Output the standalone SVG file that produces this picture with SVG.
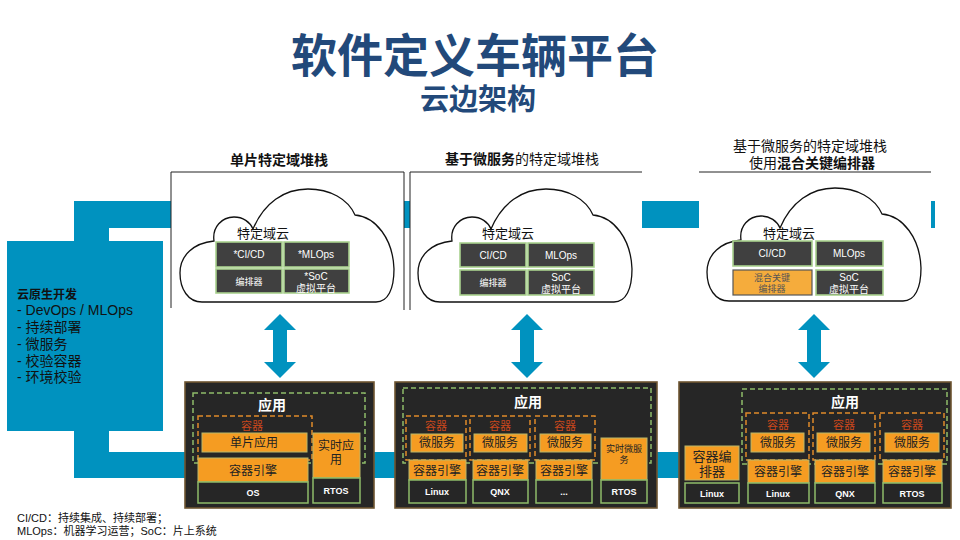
<svg xmlns="http://www.w3.org/2000/svg" width="960" height="540" viewBox="0 0 960 540">
<defs>
<style>
text{font-family:"Liberation Sans","Noto Sans CJK SC",sans-serif;}
.teal{fill:#0092bf;}
.panel{fill:#fff;}
.pline{stroke:#222;stroke-width:1;fill:none;}
.cloud{fill:#fff;stroke:#111;stroke-width:1.3;}
.cbox{fill:#404040;stroke:#a9d18e;stroke-width:1.6;}
.cobox{fill:#f5ac3c;stroke:#555;stroke-width:1.2;}
.ct{fill:#fff;font-size:10px;text-anchor:middle;}
.sm{font-size:9px;}
.clabel{fill:#111;font-size:13px;}
.head{fill:#111;font-size:14px;text-anchor:middle;}
.b{font-weight:bold;}
.dev{fill:#262626;stroke:#6e5531;stroke-width:1.6;}
.gdash{fill:none;stroke:#8fbc6a;stroke-width:1.5;stroke-dasharray:5 3;}
.odash{fill:none;stroke:#e08a2a;stroke-width:1.5;stroke-dasharray:5 3;}
.obox{fill:#f59c22;stroke:#b9b76a;stroke-width:1;}
.dbox{fill:#262626;stroke:#8fbc6a;stroke-width:1.5;}
.app{fill:#fff;font-size:14px;font-weight:bold;text-anchor:middle;}
.cont{fill:#c8471c;font-size:11px;text-anchor:middle;}
.ot{fill:#222;font-size:12px;text-anchor:middle;}
.ot9{fill:#222;font-size:9px;text-anchor:middle;}
.ot13{fill:#222;font-size:13px;text-anchor:middle;}
.os{fill:#fff;font-size:9px;font-weight:bold;text-anchor:middle;}
.arrow{fill:#0092bf;}
</style>
<path id="cloudshape" d="M 22,113 C 8,113 0,100 0,84 C 0,66 14,54 34,52 C 32,38 42,28 54,28 C 63,28 70,33 73,40 C 84,14 104,0 128,0 C 150,0 168,10 175,26 C 196,28 213,50 214,80 C 214,100 208,113 196,113 Z"/>
<path id="dblarrow" d="M 0,0 L 16,16 L 7,16 L 7,48 L 16,48 L 0,64 L -16,48 L -7,48 L -7,16 L -16,16 Z"/>
</defs>

<rect width="960" height="540" fill="#fff"/>

<!-- title -->
<g id="title">
<text x="475" y="72" font-size="46" font-weight="bold" fill="#22497a" text-anchor="middle">软件定义车辆平台</text>
<text x="478" y="110" font-size="29" font-weight="bold" fill="#22497a" text-anchor="middle">云边架构</text>
</g>

<!-- connectors: teal pipe loop and arrows -->
<g id="connectors">
<rect class="teal" x="74" y="201" width="861" height="27"/>
<rect class="teal" x="74" y="201" width="35" height="277"/>
<rect class="teal" x="74" y="452" width="820" height="26"/>
<use href="#dblarrow" class="arrow" transform="translate(280,314)"/>
<use href="#dblarrow" class="arrow" transform="translate(527,314)"/>
<use href="#dblarrow" class="arrow" transform="translate(814,314)"/>
</g>

<!-- left cloud-native box -->
<g id="cloud-native">
<rect class="teal" x="7" y="241" width="156" height="190"/>
<text x="17" y="299" font-size="12" font-weight="bold" fill="#111">云原生开发</text>
<text x="17" y="315" font-size="14" fill="#111">- DevOps / MLOps</text>
<text x="17" y="332" font-size="14" fill="#111">- 持续部署</text>
<text x="17" y="349" font-size="14" fill="#111">- 微服务</text>
<text x="17" y="366" font-size="14" fill="#111">- 校验容器</text>
<text x="17" y="382" font-size="14" fill="#111">- 环境校验</text>
</g>

<!-- panel 1 -->
<g id="panel1">
<text class="head b" x="279" y="165">单片特定域堆栈</text>
<rect class="panel" x="171" y="172" width="233" height="138"/>
<path class="pline" d="M171,308 V172 H404 V310"/>
<use href="#cloudshape" class="cloud" transform="translate(180,189)"/>
<text class="clabel" x="237" y="238">特定域云</text>
<rect class="cbox" x="216" y="242" width="66" height="25"/>
<text class="ct" x="249" y="258">*CI/CD</text>
<rect class="cbox" x="284" y="242" width="65" height="25"/>
<text class="ct" x="316" y="258">*MLOps</text>
<rect class="cbox" x="216" y="269" width="66" height="24"/>
<text class="ct sm" x="249" y="285">编排器</text>
<rect class="cbox" x="284" y="269" width="65" height="24"/>
<text class="ct" x="316" y="280">*SoC</text>
<text class="ct" x="316" y="292">虚拟平台</text>
</g>

<!-- panel 2 -->
<g id="panel2">
<text class="head" x="522" y="164"><tspan class="b">基于微服务</tspan>的特定域堆栈</text>
<rect class="panel" x="410" y="172" width="232" height="138"/>
<path class="pline" d="M410,310 V172 H642"/>
<use href="#cloudshape" class="cloud" transform="translate(418,189)"/>
<text class="clabel" x="482" y="238">特定域云</text>
<rect class="cbox" x="460" y="243" width="66" height="24"/>
<text class="ct" x="493" y="259">CI/CD</text>
<rect class="cbox" x="528" y="243" width="66" height="24"/>
<text class="ct" x="561" y="259">MLOps</text>
<rect class="cbox" x="460" y="270" width="66" height="25"/>
<text class="ct sm" x="493" y="286">编排器</text>
<rect class="cbox" x="528" y="270" width="66" height="25"/>
<text class="ct" x="561" y="281">SoC</text>
<text class="ct" x="561" y="293">虚拟平台</text>
</g>

<!-- panel 3 -->
<g id="panel3">
<text class="head" x="810" y="151">基于微服务的特定域堆栈</text>
<text class="head" x="812" y="168">使用<tspan class="b">混合关键编排器</tspan></text>
<rect class="panel" x="699" y="172" width="232" height="138"/>
<path class="pline" d="M699,172 H931"/>
<use href="#cloudshape" class="cloud" transform="translate(707,188)"/>
<text class="clabel" x="763" y="238">特定域云</text>
<rect class="cbox" x="733" y="241" width="79" height="25"/>
<text class="ct" x="772" y="257">CI/CD</text>
<rect class="cbox" x="816" y="241" width="67" height="25"/>
<text class="ct" x="849" y="257">MLOps</text>
<rect class="cobox" x="733" y="270" width="79" height="25"/>
<text class="ct sm" x="772" y="281" style="fill:#555">混合关键</text>
<text class="ct sm" x="772" y="292" style="fill:#555">编排器</text>
<rect class="cbox" x="816" y="270" width="67" height="25"/>
<text class="ct" x="849" y="281">SoC</text>
<text class="ct" x="849" y="293">虚拟平台</text>
</g>

<!-- device 1 -->
<g id="device1">
<rect class="dev" x="185" y="382" width="189" height="126"/>
<rect class="gdash" x="193" y="393" width="172" height="70"/>
<text class="app" x="272" y="410">应用</text>
<rect class="odash" x="198" y="416" width="114" height="44"/>
<text class="cont" x="252" y="430">容器</text>
<rect class="obox" x="202" y="433" width="105" height="19"/>
<text class="ot" x="254" y="447">单片应用</text>
<rect class="obox" x="198" y="458" width="110" height="24"/>
<text class="ot" x="253" y="475">容器引擎</text>
<rect class="dbox" x="198" y="482" width="110" height="21"/>
<text class="os" x="253" y="496">OS</text>
<rect class="obox" x="313" y="433" width="47" height="45"/>
<text class="ot" x="336" y="450">实时应</text>
<text class="ot" x="336" y="464">用</text>
<rect class="dbox" x="313" y="478" width="47" height="25"/>
<text class="os" x="336" y="494">RTOS</text>
</g>

<!-- device 2 -->
<g id="device2">
<rect class="dev" x="395" y="382" width="262" height="126"/>
<rect class="gdash" x="403" y="388" width="248" height="75"/>
<text class="app" x="528" y="407">应用</text>
<rect class="odash" x="406" y="416" width="60" height="44"/>
<rect class="odash" x="470" y="416" width="60" height="44"/>
<rect class="odash" x="535" y="416" width="60" height="44"/>
<text class="cont" x="436" y="430">容器</text>
<text class="cont" x="500" y="430">容器</text>
<text class="cont" x="565" y="430">容器</text>
<rect class="obox" x="411" y="434" width="52" height="18"/>
<rect class="obox" x="474" y="434" width="53" height="18"/>
<rect class="obox" x="540" y="434" width="51" height="18"/>
<text class="ot" x="437" y="447">微服务</text>
<text class="ot" x="500" y="447">微服务</text>
<text class="ot" x="565" y="447">微服务</text>
<rect class="obox" x="409" y="460" width="57" height="20"/>
<rect class="obox" x="473" y="460" width="55" height="20"/>
<rect class="obox" x="536" y="460" width="56" height="20"/>
<text class="ot" x="437" y="475">容器引擎</text>
<text class="ot" x="500" y="475">容器引擎</text>
<text class="ot" x="564" y="475">容器引擎</text>
<rect class="dbox" x="409" y="480" width="57" height="23"/>
<rect class="dbox" x="473" y="480" width="55" height="23"/>
<rect class="dbox" x="536" y="480" width="56" height="23"/>
<text class="os" x="437" y="495">Linux</text>
<text class="os" x="500" y="495">QNX</text>
<text class="os" x="564" y="495">...</text>
<rect class="obox" x="601" y="438" width="46" height="42"/>
<text class="ot9" x="624" y="452">实时微服</text>
<text class="ot9" x="624" y="463">务</text>
<rect class="dbox" x="601" y="480" width="46" height="23"/>
<text class="os" x="624" y="495">RTOS</text>
</g>

<!-- device 3 -->
<g id="device3">
<rect class="dev" x="679" y="382" width="272" height="126"/>
<rect class="gdash" x="742" y="389" width="205" height="75"/>
<text class="app" x="845" y="407">应用</text>
<rect class="odash" x="746" y="413" width="63" height="47"/>
<rect class="odash" x="813" y="413" width="62" height="47"/>
<rect class="odash" x="880" y="413" width="64" height="47"/>
<text class="cont" x="778" y="429">容器</text>
<text class="cont" x="844" y="429">容器</text>
<text class="cont" x="912" y="429">容器</text>
<rect class="obox" x="751" y="433" width="53" height="19"/>
<rect class="obox" x="817" y="433" width="53" height="19"/>
<rect class="obox" x="885" y="433" width="54" height="19"/>
<text class="ot" x="778" y="447">微服务</text>
<text class="ot" x="844" y="447">微服务</text>
<text class="ot" x="912" y="447">微服务</text>
<rect class="obox" x="748" y="460" width="61" height="23"/>
<rect class="obox" x="815" y="460" width="60" height="23"/>
<rect class="obox" x="883" y="460" width="59" height="23"/>
<text class="ot" x="778" y="476">容器引擎</text>
<text class="ot" x="845" y="476">容器引擎</text>
<text class="ot" x="912" y="476">容器引擎</text>
<rect class="dbox" x="748" y="483" width="61" height="20"/>
<rect class="dbox" x="815" y="483" width="60" height="20"/>
<rect class="dbox" x="883" y="483" width="59" height="20"/>
<text class="os" x="778" y="497">Linux</text>
<text class="os" x="845" y="497">QNX</text>
<text class="os" x="912" y="497">RTOS</text>
<rect class="obox" x="685" y="446" width="54" height="34"/>
<text class="ot13" x="712" y="461">容器编</text>
<text class="ot13" x="712" y="476">排器</text>
<rect class="dbox" x="685" y="483" width="54" height="20"/>
<text class="os" x="712" y="497">Linux</text>
</g>

<!-- footnote -->
<g id="footnote">
<text x="17" y="522" font-size="11" fill="#111">CI/CD：持续集成、持续部署；</text>
<text x="17" y="535" font-size="11" fill="#111">MLOps：机器学习运营；SoC：片上系统</text>
</g>
</svg>
